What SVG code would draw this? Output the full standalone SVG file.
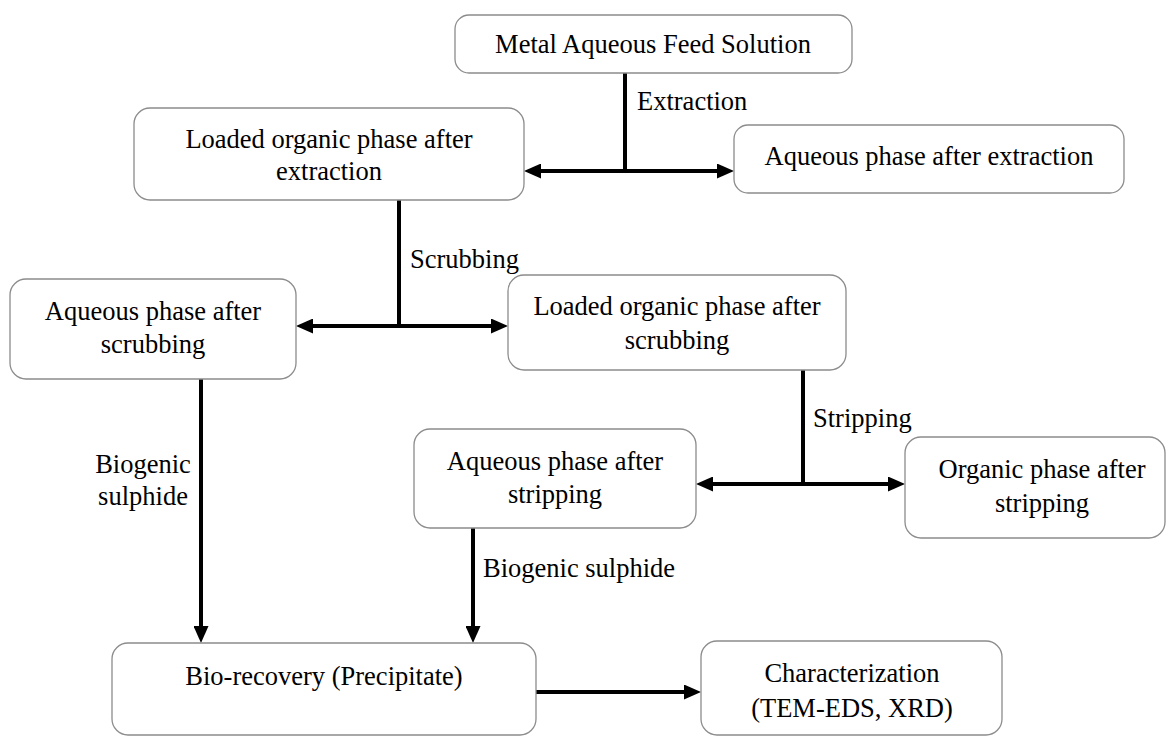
<svg xmlns="http://www.w3.org/2000/svg" width="1168" height="736" viewBox="0 0 1168 736">
<style>
.box{fill:#fff;stroke:#8c8c8c;stroke-width:1.3}
.t{font-family:"Liberation Serif","Times New Roman",serif;font-size:26.5px;fill:#000}
.c{text-anchor:middle}
.ln{stroke:#000;stroke-width:4;fill:none}
</style>
<defs>
<marker id="ah" viewBox="0 0 17 15" refX="9" refY="7.5" markerWidth="17" markerHeight="15" markerUnits="userSpaceOnUse" orient="auto-start-reverse">
<path d="M0,0 L17,7.5 L0,15 z" fill="#000"/>
</marker>
</defs>
<rect width="1168" height="736" fill="#fff"/>
<g id="connectors">
<line class="ln" x1="625" y1="73" x2="625" y2="173"/>
<line class="ln" x1="532" y1="171" x2="726" y2="171" marker-start="url(#ah)" marker-end="url(#ah)"/>
<line class="ln" x1="399" y1="200" x2="399" y2="328"/>
<line class="ln" x1="304" y1="326" x2="500" y2="326" marker-start="url(#ah)" marker-end="url(#ah)"/>
<line class="ln" x1="803" y1="370" x2="803" y2="486"/>
<line class="ln" x1="704" y1="484" x2="897" y2="484" marker-start="url(#ah)" marker-end="url(#ah)"/>
<line class="ln" x1="201" y1="379" x2="201" y2="635" marker-end="url(#ah)"/>
<line class="ln" x1="473" y1="528" x2="473" y2="635" marker-end="url(#ah)"/>
<line class="ln" x1="536" y1="692" x2="693" y2="692" marker-end="url(#ah)"/>
<text class="t" x="637" y="110">Extraction</text>
<text class="t" x="410" y="268">Scrubbing</text>
<text class="t" x="813" y="427">Stripping</text>
<text class="t c" x="143" y="473">Biogenic</text>
<text class="t c" x="143" y="505">sulphide</text>
<text class="t" x="483" y="577">Biogenic sulphide</text>
</g>
<g id="feed">
<rect class="box" x="455" y="15" width="397" height="58" rx="14"/>
<text class="t c" x="653" y="53">Metal Aqueous Feed Solution</text>
</g>
<g id="loaded-extraction">
<rect class="box" x="134" y="108" width="390" height="92" rx="16"/>
<text class="t c" x="329" y="148">Loaded organic phase after</text>
<text class="t c" x="329" y="180">extraction</text>
</g>
<g id="aqueous-extraction">
<rect class="box" x="734" y="125" width="390" height="68" rx="14"/>
<text class="t c" x="929" y="165">Aqueous phase after extraction</text>
</g>
<g id="aqueous-scrubbing">
<rect class="box" x="10" y="279" width="286" height="100" rx="16"/>
<text class="t c" x="153" y="320">Aqueous phase after</text>
<text class="t c" x="153" y="353">scrubbing</text>
</g>
<g id="loaded-scrubbing">
<rect class="box" x="508" y="275" width="338" height="95" rx="16"/>
<text class="t c" x="677" y="315">Loaded organic phase after</text>
<text class="t c" x="677" y="349">scrubbing</text>
</g>
<g id="aqueous-stripping">
<rect class="box" x="414" y="429" width="282" height="99" rx="16"/>
<text class="t c" x="555" y="470">Aqueous phase after</text>
<text class="t c" x="555" y="503">stripping</text>
</g>
<g id="organic-stripping">
<rect class="box" x="905" y="437" width="260" height="101" rx="16"/>
<text class="t c" x="1042" y="478">Organic phase after</text>
<text class="t c" x="1042" y="512">stripping</text>
</g>
<g id="bio-recovery">
<rect class="box" x="112" y="643" width="424" height="92" rx="16"/>
<text class="t c" x="324" y="685">Bio-recovery (Precipitate)</text>
</g>
<g id="characterization">
<rect class="box" x="701" y="641" width="301" height="94" rx="16"/>
<text class="t c" x="852" y="682">Characterization</text>
<text class="t c" x="852" y="717">(TEM-EDS, XRD)</text>
</g>
</svg>
